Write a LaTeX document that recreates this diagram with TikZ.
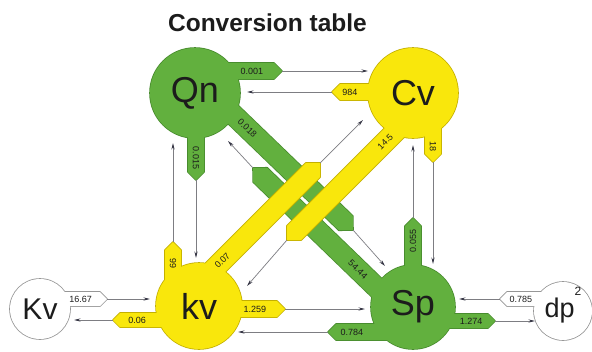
\documentclass[tikz,border=0pt]{standalone}
\usepackage{fontspec}
\setmainfont{Liberation Sans}
\usetikzlibrary{calc,arrows.meta}
\definecolor{grn}{RGB}{98,176,62}
\definecolor{grnD}{RGB}{72,140,46}
\definecolor{ylw}{RGB}{249,231,12}
\definecolor{ylwD}{RGB}{196,176,0}
\definecolor{whtD}{RGB}{150,150,150}
\definecolor{lineC}{RGB}{125,125,130}
\definecolor{tipC}{RGB}{55,55,70}
\definecolor{txt}{RGB}{28,28,28}
\newcommand\mktab[4]{\coordinate (#1a) at (#2); \coordinate (#1b) at (#3); \coordinate (#1c) at ($(#1b)!#4!(#1a)$);}
\newcommand\tabsh[2]{($(#1a)!#2!90:(#1b)$) -- ($(#1c)!#2!90:(#1b)$) -- (#1b) -- ($(#1c)!#2!-90:(#1b)$) -- ($(#1a)!#2!-90:(#1b)$) -- cycle}
\newcommand\bigf{\fontsize{36}{36}\selectfont}
\newcommand\midf{\fontsize{30}{30}\selectfont}
\newcommand\dpf{\fontsize{27}{27}\selectfont}
\begin{document}
\begin{tikzpicture}[x=1pt,y=-1pt,
  outl/.style={line width=1.6pt,line join=round},
  conn/.style={draw=lineC,line width=0.7pt,-{Stealth[length=6.5pt,width=3.2pt,color=tipC]}},
  lbl/.style={font=\fontsize{9}{9}\selectfont,text=txt,inner sep=0pt,sloped},
  cnode/.style={inner sep=0pt,text=txt},
  title/.style={font=\bfseries\fontsize{24.5}{25}\selectfont,text=txt,anchor=base}]
\useasboundingbox (0,0) rectangle (592,351);
\fill[white] (0,0) rectangle (592,351);
\node[title] (title) at (267.5,31) {Conversion table};
% tabs: name, base, tip, half width
\mktab{T1}{195,71}{282,71}{8pt}
\mktab{T2}{413,92}{332,92}{8pt}
\mktab{T3}{196,93}{196,180}{8pt}
\mktab{T4}{173,306}{173,242}{8pt}
\mktab{T5}{202.6,85.1}{353,230}{10pt}
\mktab{T6}{405.1,315.1}{253,168}{10pt}
\mktab{T7}{188.1,294.9}{320,163}{10pt}
\mktab{T8}{423.5,103.5}{287,240}{10pt}
\mktab{T9}{433,93}{433,162}{8pt}
\mktab{T10}{413,307}{413,218}{8pt}
\mktab{T11}{199,309}{285,309}{8pt}
\mktab{T12}{413,332}{328,332}{8pt}
\mktab{T13}{41,299}{107,299}{7pt}
\mktab{T14}{199,320}{113,320}{7pt}
\mktab{T15}{563,299}{500,299}{7pt}
\mktab{T16}{413,321}{495,321}{7pt}
% arrival points
\coordinate (E1) at (368,71);
\coordinate (E2) at (247,92);
\coordinate (E3) at (196,258);
\coordinate (E4) at (173,143);
\coordinate (E5) at (385,266);
\coordinate (E6) at (228,141);
\coordinate (E7) at (363,120);
\coordinate (E8) at (247,286);
\coordinate (E9) at (433,264);
\coordinate (E10) at (413,145);
\coordinate (E11) at (365,309);
\coordinate (E12) at (238,332);
\coordinate (E13) at (150,299);
\coordinate (E14) at (74,320);
\coordinate (E15) at (459,299);
\coordinate (E16) at (535,321);
% Qn group
\path[outl,draw=grnD] (195,93) circle[radius=45pt] \tabsh{T1}{8pt} \tabsh{T3}{8pt} \tabsh{T5}{10pt};
\path[fill=grn] \tabsh{T1}{8pt} \tabsh{T3}{8pt} \tabsh{T5}{10pt};
\fill[grn] (195,93) circle[radius=45pt];
\node[cnode,font=\bigf] (Qn) at (195,93) {Qn};
% Sp group
\path[outl,draw=grnD] (413,307) circle[radius=42pt] \tabsh{T6}{10pt} \tabsh{T10}{8pt} \tabsh{T12}{8pt} \tabsh{T16}{7pt};
\path[fill=grn] \tabsh{T6}{10pt} \tabsh{T10}{8pt} \tabsh{T12}{8pt} \tabsh{T16}{7pt};
\fill[grn] (413,307) circle[radius=42pt];
\node[cnode,font=\bigf] (Sp) at (413,307) {Sp};
% Cv group
\path[outl,draw=ylwD] (413,93) circle[radius=45pt] \tabsh{T2}{8pt} \tabsh{T8}{10pt} \tabsh{T9}{8pt};
\path[fill=ylw] \tabsh{T2}{8pt} \tabsh{T8}{10pt} \tabsh{T9}{8pt};
\fill[ylw] (413,93) circle[radius=45pt];
\node[cnode,font=\bigf] (Cv) at (413,93) {Cv};
% kv group
\path[outl,draw=ylwD] (199,306) circle[radius=43pt] \tabsh{T4}{8pt} \tabsh{T7}{10pt} \tabsh{T11}{8pt} \tabsh{T14}{7pt};
\path[fill=ylw] \tabsh{T4}{8pt} \tabsh{T7}{10pt} \tabsh{T11}{8pt} \tabsh{T14}{7pt};
\fill[ylw] (199,306) circle[radius=43pt];
\node[cnode,font=\bigf] (kv) at (199,306) {kv};
% Kv group
\path[outl,draw=whtD] (40,309) circle[radius=30pt] \tabsh{T13}{7pt};
\path[fill=white] \tabsh{T13}{7pt};
\fill[white] (40,309) circle[radius=30pt];
\node[cnode,font=\midf] (Kv) at (40,309) {Kv};
% dp group
\path[outl,draw=whtD] (563,311) circle[radius=29pt] \tabsh{T15}{7pt};
\path[fill=white] \tabsh{T15}{7pt};
\fill[white] (563,311) circle[radius=29pt];
\node[cnode,font=\dpf] (dp) at (563,311) {dp\smash{\raisebox{22pt}{\fontsize{12}{12}\selectfont 2}}};
% labels
\path (T1a) -- (T1b) node[lbl,pos=0.655] {0.001};
\path (T2a) -- (T2b) node[lbl,pos=0.78] {984};
\path (T3a) -- (T3b) node[lbl,pos=0.75] {0.015};
\path (T4a) -- (T4b) node[lbl,pos=0.66] {66};
\path (T5a) -- (T5b) node[lbl,pos=0.297] {0.018};
\path (T6a) -- (T6b) node[lbl,pos=0.31] {54.44};
\path (T7a) -- (T7b) node[lbl,pos=0.26] {0.07};
\path (T8a) -- (T8b) node[lbl,pos=0.28] {14.5};
\path (T9a) -- (T9b) node[lbl,pos=0.77] {18};
\path (T10a) -- (T10b) node[lbl,pos=0.74] {0.055};
\path (T11a) -- (T11b) node[lbl,pos=0.65] {1.259};
\path (T12a) -- (T12b) node[lbl,pos=0.72] {0.784};
\path (T13a) -- (T13b) node[lbl,pos=0.6] {16.67};
\path (T14a) -- (T14b) node[lbl,pos=0.72] {0.06};
\path (T15a) -- (T15b) node[lbl,pos=0.67] {0.785};
\path (T16a) -- (T16b) node[lbl,pos=0.71] {1.274};
% connectors
\foreach \i in {1,...,16} {\draw[conn] (T\i b) -- (E\i);}
\end{tikzpicture}
\end{document}
